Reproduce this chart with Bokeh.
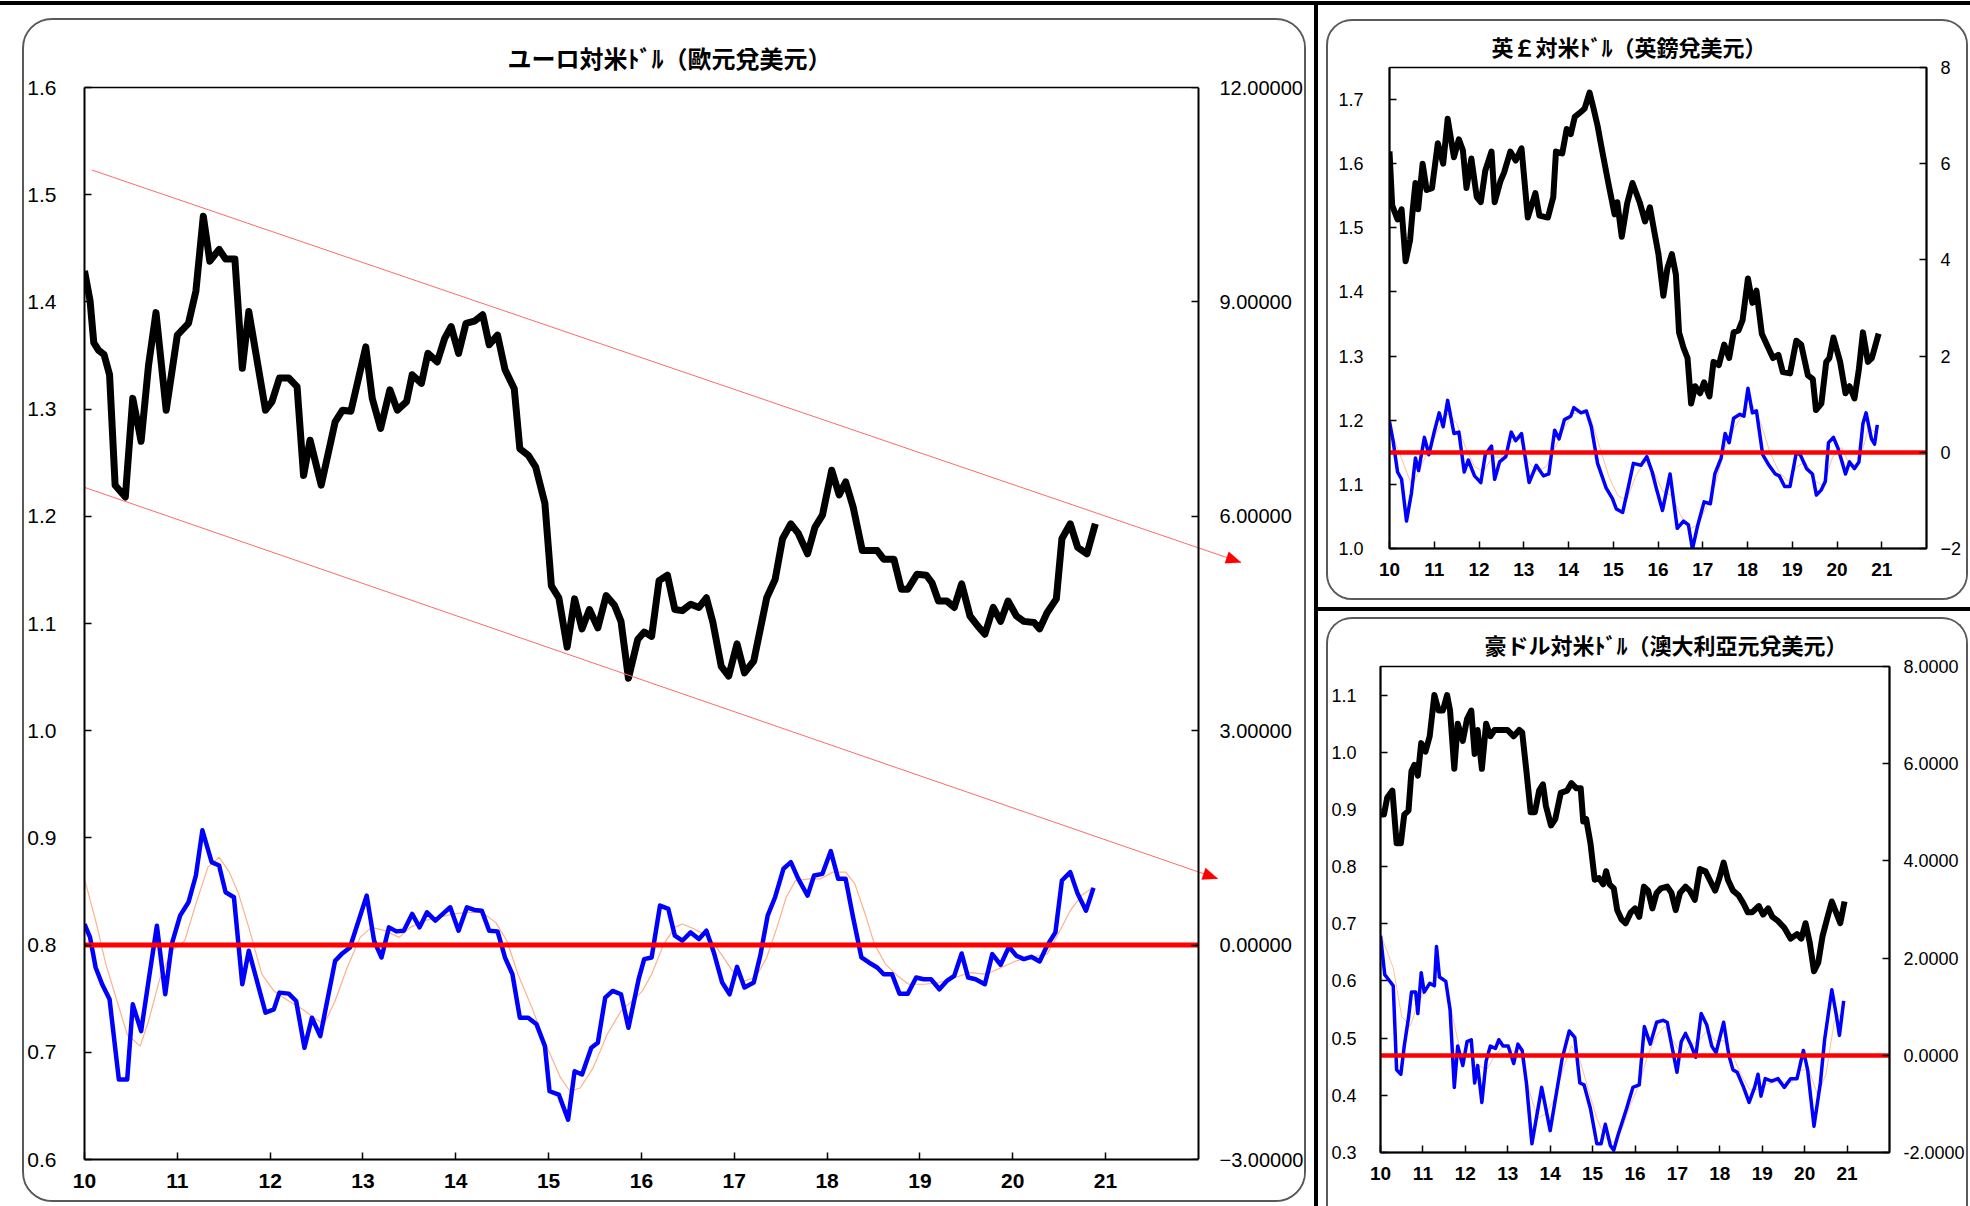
import math
from bokeh.plotting import figure
from bokeh.models import (Range1d, LinearAxis, FixedTicker, NumeralTickFormatter,
                          CustomJSTickFormatter, PolyAnnotation, Spacer)
from bokeh.layouts import row, column
from bokeh.embed import file_html
from bokeh.resources import INLINE

# ---------------- data (x = year - 2000, decimal) ----------------
years = [10, 11, 12, 13, 14, 15, 16, 17, 18, 19, 20, 21]
X_START, X_END = 10, 22

# EUR/USD rate (left axis)
eur_t = [10.00, 10.06, 10.10, 10.15, 10.21, 10.27, 10.33, 10.44, 10.52, 10.61, 10.69, 10.77, 10.88,
         11.00, 11.12, 11.20, 11.28, 11.35, 11.45, 11.52, 11.62, 11.70, 11.77, 11.95,
         12.02, 12.10, 12.20, 12.29, 12.36, 12.43, 12.55, 12.70, 12.78, 12.87,
         13.03, 13.10, 13.19, 13.29, 13.37, 13.47, 13.53, 13.63, 13.70, 13.80, 13.88, 13.95,
         14.03, 14.11, 14.20, 14.29, 14.36, 14.45, 14.53, 14.63, 14.69, 14.78, 14.86, 14.96,
         15.03, 15.11, 15.20, 15.28, 15.36, 15.44, 15.53, 15.62, 15.71, 15.78, 15.86, 15.96,
         16.03, 16.11, 16.19, 16.28, 16.36, 16.44, 16.53, 16.62, 16.70, 16.77, 16.86, 16.94,
         17.03, 17.11, 17.21, 17.35, 17.44, 17.52, 17.61, 17.69, 17.79, 17.87, 17.95,
         18.05, 18.13, 18.20, 18.28, 18.38, 18.46, 18.54, 18.61, 18.72, 18.80, 18.87, 18.97,
         19.07, 19.13, 19.20, 19.29, 19.37, 19.45, 19.54, 19.62, 19.70, 19.79, 19.87, 19.95,
         20.04, 20.12, 20.23, 20.29, 20.37, 20.47, 20.53, 20.62, 20.70, 20.80, 20.89]
eur_rate = [1.429, 1.401, 1.362, 1.355, 1.351, 1.332, 1.229, 1.218, 1.310, 1.270, 1.341, 1.390, 1.299,
            1.369, 1.380, 1.410, 1.480, 1.438, 1.449, 1.440, 1.440, 1.338, 1.391, 1.299,
            1.307, 1.329, 1.329, 1.321, 1.238, 1.271, 1.229, 1.288, 1.299, 1.298,
            1.358, 1.310, 1.282, 1.318, 1.299, 1.307, 1.332, 1.324, 1.352, 1.344, 1.366, 1.377,
            1.352, 1.380, 1.382, 1.388, 1.360, 1.369, 1.337, 1.319, 1.263, 1.257, 1.246, 1.212,
            1.135, 1.124, 1.078, 1.123, 1.095, 1.113, 1.096, 1.126, 1.117, 1.102, 1.049, 1.085,
            1.092, 1.088, 1.140, 1.145, 1.113, 1.112, 1.118, 1.115, 1.124, 1.101, 1.060, 1.051,
            1.081, 1.054, 1.065, 1.124, 1.141, 1.179, 1.193, 1.184, 1.165, 1.190, 1.201,
            1.243, 1.220, 1.232, 1.209, 1.168, 1.168, 1.168, 1.160, 1.160, 1.132, 1.132, 1.146,
            1.145, 1.138, 1.121, 1.121, 1.115, 1.137, 1.107, 1.098, 1.090, 1.115, 1.102, 1.121,
            1.107, 1.102, 1.101, 1.095, 1.110, 1.123, 1.179, 1.193, 1.171, 1.165, 1.193]

# EUR deviation indicator (right axis)
eur_dev_t = [10.00, 10.06, 10.12, 10.19, 10.27, 10.37, 10.46, 10.52, 10.61, 10.69, 10.78, 10.87, 10.94,
             11.03, 11.12, 11.20, 11.27, 11.37, 11.45, 11.52, 11.61, 11.70, 11.77, 11.95,
             12.04, 12.10, 12.20, 12.28, 12.37, 12.45, 12.54, 12.70, 12.77, 12.86,
             13.04, 13.12, 13.20, 13.28, 13.36, 13.44, 13.53, 13.61, 13.69, 13.78, 13.86, 13.94,
             14.03, 14.12, 14.20, 14.28, 14.36, 14.45, 14.53, 14.61, 14.69, 14.78, 14.87, 14.96,
             15.01, 15.11, 15.21, 15.28, 15.36, 15.46, 15.53, 15.61, 15.69, 15.78, 15.86, 15.97,
             16.03, 16.11, 16.20, 16.29, 16.36, 16.44, 16.53, 16.62, 16.70, 16.78, 16.87, 16.95,
             17.03, 17.11, 17.21, 17.28, 17.36, 17.44, 17.53, 17.61, 17.69, 17.79, 17.86, 17.95,
             18.04, 18.12, 18.20, 18.28, 18.37, 18.45, 18.54, 18.61, 18.70, 18.78, 18.87, 18.96,
             19.04, 19.12, 19.21, 19.29, 19.37, 19.45, 19.52, 19.60, 19.70, 19.78, 19.87, 19.96,
             20.04, 20.12, 20.20, 20.29, 20.37, 20.46, 20.53, 20.62, 20.70, 20.79, 20.87]
eur_dev = [0.295, 0.108, -0.313, -0.548, -0.758, -1.882, -1.882, -0.829, -1.203, -0.501, 0.272, -0.688, 0.014,
           0.412, 0.599, 0.974, 1.606, 1.161, 1.114, 0.740, 0.670, -0.548, -0.079, -0.945,
           -0.899, -0.665, -0.679, -0.782, -1.437, -1.016, -1.273, -0.220, -0.126, -0.033,
           0.693, 0.061, -0.173, 0.248, 0.192, 0.202, 0.436, 0.248, 0.459, 0.342, 0.436, 0.529,
           0.202, 0.529, 0.492, 0.482, 0.202, 0.192, -0.173, -0.407, -1.016, -1.016, -1.109, -1.413,
           -2.045, -2.092, -2.443, -1.765, -1.811, -1.437, -1.367, -0.735, -0.641, -0.688, -1.156, -0.477,
           -0.196, -0.173, 0.553, 0.506, 0.131, 0.061, 0.178, 0.084, 0.202, -0.103, -0.524, -0.688,
           -0.304, -0.594, -0.524, -0.150, 0.412, 0.670, 1.068, 1.161, 0.927, 0.693, 0.974, 0.997,
           1.316, 0.927, 0.927, 0.389, -0.173, -0.243, -0.314, -0.407, -0.407, -0.679, -0.679, -0.454,
           -0.477, -0.477, -0.618, -0.501, -0.431, -0.117, -0.454, -0.477, -0.548, -0.126, -0.276, -0.023,
           -0.150, -0.196, -0.164, -0.229, -0.009, 0.178, 0.904, 1.021, 0.717, 0.482, 0.801]

# EUR smoothed indicator (thin orange line, right axis)
eur_ma_t = [10.00, 10.12, 10.23, 10.35, 10.46, 10.60, 10.69, 10.81, 10.94, 11.08, 11.20, 11.33, 11.45,
            11.56, 11.66, 11.77, 11.91, 12.04, 12.20, 12.35, 12.47, 12.58, 12.70, 12.83, 12.97,
            13.09, 13.24, 13.39, 13.51, 13.66, 13.82, 13.97, 14.13, 14.28, 14.43, 14.55, 14.67,
            14.82, 14.97, 15.13, 15.23, 15.34, 15.48, 15.63, 15.78, 15.94, 16.01, 16.11, 16.24,
            16.36, 16.44, 16.57, 16.73, 16.86, 16.98, 17.11, 17.23, 17.35, 17.46, 17.56, 17.66,
            17.81, 17.93, 18.06, 18.20, 18.30, 18.41, 18.51, 18.63, 18.76, 18.88, 19.05, 19.21,
            19.38, 19.54, 19.71, 19.88, 20.04, 20.20, 20.37, 20.49, 20.62, 20.74, 20.87]
eur_ma = [0.927, 0.342, -0.267, -0.782, -1.250, -1.414, -1.062, -0.477, -0.079, 0.061, 0.576, 1.091, 1.231,
          1.021, 0.717, 0.248, -0.407, -0.641, -0.782, -0.899, -1.016, -1.109, -0.782, -0.313, 0.108,
          0.248, 0.202, 0.108, 0.248, 0.342, 0.389, 0.436, 0.459, 0.459, 0.318, 0.061, -0.407,
          -0.875, -1.390, -1.858, -2.045, -1.999, -1.718, -1.250, -0.922, -0.735, -0.641, -0.407, 0.014,
          0.248, 0.295, 0.225, 0.108, -0.126, -0.360, -0.501, -0.454, -0.173, 0.248, 0.670, 0.904,
          0.927, 0.927, 1.021, 1.021, 0.857, 0.436, 0.014, -0.267, -0.431, -0.548, -0.548, -0.524,
          -0.454, -0.384, -0.407, -0.313, -0.220, -0.173, -0.126, 0.155, 0.482, 0.693, 0.810]

# EUR trend channel (left axis): start / end points of the two lines
trend_x0 = [10.08, 10.00]
trend_y0 = [1.523, 1.227]
trend_x1 = [22.46, 22.21]
trend_y1 = [1.157, 0.862]

# GBP/USD
gbp_t = [10.00, 10.06, 10.18, 10.27, 10.36, 10.46, 10.52, 10.58, 10.64, 10.74, 10.83, 10.95, 11.08,
         11.20, 11.30, 11.44, 11.55, 11.64, 11.72, 11.83, 11.95, 12.04, 12.14, 12.28, 12.35,
         12.48, 12.56, 12.70, 12.82, 12.95, 13.09, 13.26, 13.35, 13.54, 13.66, 13.72, 13.86,
         13.96, 14.05, 14.14, 14.28, 14.36, 14.47, 14.56, 14.65, 14.75, 14.89, 15.03, 15.09,
         15.19, 15.31, 15.43, 15.59, 15.71, 15.82, 15.91, 16.01, 16.12, 16.21, 16.31, 16.40,
         16.47, 16.57, 16.66, 16.74, 16.83, 16.94, 17.03, 17.15, 17.24, 17.36, 17.48, 17.59,
         17.69, 17.80, 17.89, 18.01, 18.11, 18.20, 18.32, 18.43, 18.57, 18.69, 18.79, 18.95,
         19.09, 19.20, 19.35, 19.46, 19.53, 19.65, 19.76, 19.83, 19.92, 20.07, 20.19, 20.28,
         20.39, 20.49, 20.58, 20.69, 20.78, 20.93]
gbp_rate = [1.619, 1.535, 1.513, 1.529, 1.448, 1.481, 1.529, 1.570, 1.529, 1.600, 1.559, 1.562, 1.632,
            1.600, 1.670, 1.610, 1.638, 1.621, 1.562, 1.608, 1.548, 1.540, 1.589, 1.619, 1.540,
            1.573, 1.586, 1.619, 1.605, 1.624, 1.516, 1.554, 1.519, 1.516, 1.548, 1.619, 1.616,
            1.654, 1.646, 1.673, 1.681, 1.686, 1.711, 1.686, 1.659, 1.621, 1.570, 1.521, 1.540,
            1.486, 1.538, 1.570, 1.540, 1.510, 1.532, 1.497, 1.459, 1.394, 1.437, 1.459, 1.427,
            1.337, 1.313, 1.297, 1.226, 1.253, 1.242, 1.259, 1.237, 1.291, 1.286, 1.318, 1.297,
            1.337, 1.340, 1.356, 1.421, 1.383, 1.402, 1.335, 1.318, 1.297, 1.302, 1.275, 1.273,
            1.324, 1.318, 1.270, 1.264, 1.216, 1.226, 1.291, 1.297, 1.329, 1.291, 1.242, 1.253,
            1.234, 1.280, 1.337, 1.291, 1.297, 1.335]
gbp_dev_t = [10.00, 10.08, 10.18, 10.27, 10.38, 10.49, 10.58, 10.65, 10.78, 10.88, 10.99, 11.11, 11.20,
             11.30, 11.44, 11.55, 11.67, 11.76, 11.90, 12.04, 12.14, 12.28, 12.35, 12.46, 12.60,
             12.72, 12.82, 12.95, 13.12, 13.28, 13.44, 13.56, 13.69, 13.79, 13.91, 14.05, 14.12,
             14.28, 14.40, 14.51, 14.65, 14.84, 14.98, 15.07, 15.21, 15.34, 15.45, 15.62, 15.75,
             15.87, 15.96, 16.10, 16.27, 16.43, 16.57, 16.68, 16.77, 16.89, 17.03, 17.17, 17.27,
             17.41, 17.50, 17.59, 17.69, 17.83, 17.92, 18.01, 18.11, 18.20, 18.34, 18.48, 18.62,
             18.71, 18.83, 18.95, 19.09, 19.18, 19.32, 19.45, 19.54, 19.65, 19.74, 19.81, 19.92,
             20.02, 20.10, 20.19, 20.28, 20.39, 20.49, 20.58, 20.65, 20.77, 20.84, 20.90]
gbp_dev = [0.64, 0.24, -0.41, -0.56, -1.43, -0.85, -0.12, -0.38, 0.31, -0.05, 0.39, 0.82, 0.53,
           1.08, 0.39, 0.42, -0.41, -0.16, -0.49, -0.63, -0.05, 0.13, -0.56, -0.20, -0.09,
           0.42, 0.24, 0.39, -0.63, -0.27, -0.49, -0.45, 0.46, 0.28, 0.68, 0.75, 0.93,
           0.82, 0.86, 0.53, -0.23, -0.74, -0.96, -1.18, -1.25, -0.71, -0.23, -0.27, -0.09,
           -0.41, -0.74, -1.21, -0.45, -1.58, -1.43, -1.51, -2.01, -1.51, -1.03, -1.07, -0.45,
           -0.12, 0.39, 0.20, 0.71, 0.79, 0.75, 1.33, 0.82, 0.86, -0.05, -0.27, -0.45,
           -0.49, -0.71, -0.71, -0.01, -0.05, -0.34, -0.45, -0.89, -0.78, -0.60, 0.20, 0.31,
           0.09, -0.16, -0.45, -0.20, -0.34, -0.20, 0.60, 0.82, 0.28, 0.17, 0.57]
gbp_ma_t = [10.0, 10.3, 10.5, 10.7, 10.9, 11.1, 11.3, 11.5, 11.7, 11.9, 12.1, 12.3, 12.5, 12.7, 12.9,
            13.1, 13.3, 13.5, 13.7, 13.9, 14.1, 14.3, 14.5, 14.7, 14.9, 15.1, 15.3, 15.5, 15.7, 15.9,
            16.1, 16.3, 16.5, 16.7, 16.9, 17.1, 17.3, 17.5, 17.7, 17.9, 18.1, 18.3, 18.5, 18.7, 18.9,
            19.1, 19.3, 19.5, 19.7, 19.9, 20.1, 20.3, 20.5, 20.7, 20.9]
gbp_ma = [0.5, -0.2, -0.7, -0.3, 0.1, 0.5, 0.8, 0.6, 0.1, -0.3, -0.4, -0.1, -0.1, 0.2, 0.3,
          -0.2, -0.4, -0.3, 0.1, 0.5, 0.8, 0.85, 0.7, 0.1, -0.5, -0.9, -1.0, -0.5, -0.2, -0.4,
          -0.8, -0.9, -1.3, -1.6, -1.5, -1.1, -0.6, 0.1, 0.5, 0.8, 1.0, 0.6, 0.0, -0.4, -0.6,
          -0.3, -0.2, -0.6, -0.7, -0.1, 0.1, -0.3, -0.2, 0.5, 0.4]

# AUD/USD
aud_t = [10.00, 10.08, 10.16, 10.28, 10.38, 10.48, 10.56, 10.66, 10.73, 10.80, 10.88, 10.96, 11.06,
         11.16, 11.27, 11.37, 11.47, 11.57, 11.64, 11.74, 11.82, 11.94, 12.04, 12.14, 12.22,
         12.29, 12.39, 12.49, 12.59, 12.69, 12.84, 12.99, 13.14, 13.27, 13.34, 13.44, 13.54,
         13.64, 13.74, 13.83, 13.90, 14.02, 14.12, 14.25, 14.40, 14.50, 14.62, 14.72, 14.78,
         14.85, 14.95, 15.05, 15.15, 15.25, 15.32, 15.40, 15.50, 15.58, 15.68, 15.78, 15.90,
         16.00, 16.10, 16.21, 16.31, 16.41, 16.51, 16.61, 16.76, 16.86, 16.96, 17.06, 17.19,
         17.29, 17.41, 17.53, 17.66, 17.76, 17.89, 17.99, 18.09, 18.19, 18.31, 18.44, 18.56,
         18.66, 18.76, 18.92, 19.02, 19.14, 19.24, 19.37, 19.52, 19.67, 19.82, 19.92, 20.02,
         20.12, 20.22, 20.32, 20.42, 20.54, 20.64, 20.74, 20.84, 20.94]
aud_rate = [0.891, 0.891, 0.921, 0.933, 0.841, 0.841, 0.891, 0.898, 0.967, 0.978, 0.959, 1.016, 1.001,
            1.028, 1.100, 1.073, 1.073, 1.100, 1.073, 0.971, 1.050, 1.020, 1.058, 1.073, 0.997,
            1.039, 0.971, 1.050, 1.028, 1.039, 1.039, 1.039, 1.028, 1.039, 1.035, 0.967, 0.895,
            0.895, 0.933, 0.944, 0.906, 0.872, 0.883, 0.929, 0.933, 0.946, 0.937, 0.937, 0.879,
            0.883, 0.841, 0.777, 0.780, 0.769, 0.792, 0.769, 0.762, 0.724, 0.708, 0.701, 0.720,
            0.727, 0.712, 0.765, 0.758, 0.727, 0.754, 0.762, 0.765, 0.754, 0.724, 0.754, 0.765,
            0.758, 0.742, 0.796, 0.792, 0.777, 0.758, 0.780, 0.807, 0.777, 0.758, 0.750, 0.735,
            0.720, 0.720, 0.731, 0.716, 0.727, 0.712, 0.705, 0.693, 0.674, 0.682, 0.674, 0.701,
            0.667, 0.617, 0.632, 0.678, 0.712, 0.739, 0.720, 0.701, 0.739]
aud_dev_t = [10.00, 10.10, 10.18, 10.30, 10.38, 10.48, 10.56, 10.66, 10.73, 10.83, 10.88, 10.96, 11.03,
             11.16, 11.27, 11.32, 11.39, 11.54, 11.64, 11.74, 11.82, 11.94, 12.04, 12.14, 12.22,
             12.29, 12.39, 12.49, 12.59, 12.71, 12.79, 12.89, 13.01, 13.14, 13.24, 13.34, 13.44,
             13.57, 13.80, 14.00, 14.28, 14.45, 14.58, 14.70, 14.80, 14.95, 15.10, 15.20, 15.30,
             15.42, 15.50, 15.60, 15.80, 15.95, 16.10, 16.22, 16.36, 16.51, 16.66, 16.76, 16.86,
             16.99, 17.09, 17.19, 17.33, 17.43, 17.56, 17.69, 17.81, 17.91, 18.09, 18.21, 18.31,
             18.41, 18.56, 18.69, 18.82, 18.90, 18.97, 19.07, 19.22, 19.37, 19.52, 19.67, 19.82,
             19.97, 20.07, 20.22, 20.37, 20.47, 20.64, 20.74, 20.82, 20.92]
aud_dev = [2.46, 1.66, 1.57, 1.43, -0.30, -0.39, 0.19, 0.77, 1.30, 1.30, 0.86, 1.70, 1.30,
           1.48, 1.43, 2.24, 1.61, 1.52, 0.94, -0.66, 0.19, -0.21, 0.28, 0.32, -0.57,
           -0.21, -0.97, -0.12, 0.19, 0.14, 0.32, 0.19, 0.19, -0.17, 0.23, 0.10, -0.57,
           -1.82, -0.66, -1.55, -0.08, 0.50, 0.37, -0.57, -0.61, -1.10, -1.82, -1.82, -1.42,
           -1.86, -1.95, -1.64, -1.10, -0.66, -0.61, 0.59, 0.23, 0.68, 0.72, 0.68, 0.23,
           -0.35, 0.28, 0.45, 0.19, -0.04, 0.86, 0.63, 0.19, 0.05, 0.68, 0.01, -0.30,
           -0.35, -0.66, -0.97, -0.66, -0.39, -0.84, -0.48, -0.53, -0.48, -0.66, -0.48, -0.48,
           0.10, -0.30, -1.46, -0.57, 0.32, 1.35, 0.86, 0.41, 1.12]
aud_ma_t = [10.0, 10.3, 10.5, 10.7, 10.9, 11.1, 11.3, 11.5, 11.7, 11.9, 12.1, 12.3, 12.5, 12.7, 12.9,
            13.1, 13.3, 13.5, 13.7, 13.9, 14.1, 14.3, 14.5, 14.7, 14.9, 15.1, 15.3, 15.5, 15.7, 15.9,
            16.1, 16.3, 16.5, 16.7, 16.9, 17.1, 17.3, 17.5, 17.7, 17.9, 18.1, 18.3, 18.5, 18.7, 18.9,
            19.1, 19.3, 19.5, 19.7, 19.9, 20.1, 20.3, 20.5, 20.7, 20.9]
aud_ma = [2.5, 1.8, 0.8, 0.6, 1.1, 1.4, 1.6, 1.6, 0.8, 0.0, 0.0, -0.2, -0.3, 0.0, 0.2,
          0.1, 0.0, -0.7, -1.3, -1.2, -0.9, -0.3, 0.2, -0.1, -0.7, -1.3, -1.7, -1.8, -1.5, -1.0,
          -0.6, 0.0, 0.4, 0.6, 0.3, 0.0, 0.2, 0.3, 0.5, 0.3, 0.3, 0.0, -0.4, -0.7, -0.7,
          -0.6, -0.55, -0.55, -0.55, -0.3, -0.3, -0.8, -0.4, 0.7, 0.9]

eur_left_ticks = [0.6, 0.7, 0.8, 0.9, 1.0, 1.1, 1.2, 1.3, 1.4, 1.5, 1.6]
eur_right_ticks = [-3, 0, 3, 6, 9, 12]
gbp_left_ticks = [1.0, 1.1, 1.2, 1.3, 1.4, 1.5, 1.6, 1.7]
gbp_right_ticks = [-2, 0, 2, 4, 6, 8]
aud_left_ticks = [0.3, 0.4, 0.5, 0.6, 0.7, 0.8, 0.9, 1.0, 1.1]
aud_right_ticks = [-2, 0, 2, 4, 6, 8]

title_eur = "ユーロ対米ﾄﾞﾙ（歐元兌美元）"
title_gbp = "英￡対米ﾄﾞﾙ（英鎊兌美元）"
title_aud = "豪ドル対米ﾄﾞﾙ（澳大利亞元兌美元）"

# ---------------- styling helpers ----------------
SANS = "Liberation Sans"
CJK = "Noto Sans CJK JP"


def style_axis(ax, font, size, bold, standoff):
    ax.major_tick_in = 7
    ax.major_tick_out = 0
    ax.minor_tick_in = 0
    ax.minor_tick_out = 0
    ax.axis_line_color = "black"
    ax.axis_line_width = 2
    ax.major_tick_line_color = "black"
    ax.major_tick_line_width = 1.5
    ax.major_label_text_font = font
    ax.major_label_text_font_size = f"{size}px"
    ax.major_label_text_font_style = "bold" if bold else "normal"
    ax.major_label_text_color = "black"
    ax.major_label_standoff = standoff


def make_panel(width, height, mb, yl, yr, lticks, rticks, lfmt, rfmt, sizes, standoffs, title,
               x_end=X_END, right_shift=0):
    p = figure(width=width, height=height, output_backend="svg", toolbar_location=None,
               x_range=Range1d(X_START, x_end), y_range=Range1d(*yl),
               min_border_left=mb[0], min_border_right=mb[1],
               min_border_top=mb[2], min_border_bottom=mb[3])
    p.frame_align = False
    p.extra_y_ranges = {"r": Range1d(*yr)}
    p.xgrid.grid_line_color = None
    p.ygrid.grid_line_color = None
    p.background_fill_color = "white"
    p.border_fill_color = "white"

    xa = p.xaxis[0]
    xa.ticker = FixedTicker(ticks=years)
    xa.bounds = (X_START, X_END)
    style_axis(xa, SANS, sizes[0], True, standoffs[0])

    la = p.yaxis[0]
    la.ticker = FixedTicker(ticks=lticks)
    la.formatter = lfmt
    style_axis(la, SANS, sizes[1], False, standoffs[1])

    if right_shift:
        # the frame runs a little past the last year so that the trend arrows can overshoot;
        # the visible right border (line + ticks) sits at X_END, its labels in the side panel
        rline = LinearAxis(y_range_name="r", ticker=FixedTicker(ticks=rticks),
                           formatter=CustomJSTickFormatter(code="return '';"))
        style_axis(rline, SANS, sizes[2], False, 0)
        rline.fixed_location = X_END
        p.add_layout(rline, "right")
        rlab = LinearAxis(y_range_name="r", ticker=FixedTicker(ticks=rticks), formatter=rfmt)
        style_axis(rlab, SANS, sizes[2], False, standoffs[2] - right_shift)
        rlab.axis_line_color = None
        rlab.major_tick_line_color = None
        rlab.major_tick_in = 0
        p.add_layout(rlab, "right")
        p.outline_line_color = None
        top = LinearAxis(ticker=FixedTicker(ticks=[]), bounds=(X_START, X_END))
        top.axis_line_color = "black"
        top.axis_line_width = 1.5
        top.major_tick_in = 0
        top.major_tick_out = 0
        top.minor_tick_in = 0
        top.minor_tick_out = 0
        p.add_layout(top, "above")
    else:
        ra = LinearAxis(y_range_name="r", ticker=FixedTicker(ticks=rticks), formatter=rfmt)
        style_axis(ra, SANS, sizes[2], False, standoffs[2])
        p.add_layout(ra, "right")
        p.outline_line_color = "black"
        p.outline_line_width = 1.5

    p.title.text = title[0]
    p.title.align = "left"
    p.title.offset = title[1]
    p.title.standoff = title[2]
    p.title.text_font = CJK
    p.title.text_font_size = f"{title[3]}px"
    p.title.text_font_style = "bold"
    p.title.text_color = "black"
    return p


def minus_fmt(dec):
    return CustomJSTickFormatter(
        code=f"return (tick < 0 ? '\\u2212' : '') + Math.abs(tick).toFixed({dec});")


def head_polygon(x0, y0, x1, y1, kx, ky, length, half):
    # triangle arrow head at (x1, y1), pointing along the line, sized in pixels
    dx, dy = (x1 - x0) * kx, (y1 - y0) * ky
    n = math.hypot(dx, dy)
    ux, uy = dx / n, dy / n
    bx, by = -ux * length, -uy * length
    px, py = -uy * half, ux * half
    xs = [x1, x1 + (bx + px) / kx, x1 + (bx - px) / kx]
    ys = [y1, y1 + (by + py) / ky, y1 + (by - py) / ky]
    return xs, ys


# ---------------- main panel: EUR ----------------
MAIN_W, MAIN_H = 1280, 1180
main_mb = (59, 55, 67, 45)
VIS_FRAME_W = 1111                       # pixels between year 10 and year 22
frame_w = MAIN_W - main_mb[0] - main_mb[1]
frame_h = MAIN_H - main_mb[2] - main_mb[3]
kx = VIS_FRAME_W / (X_END - X_START)
ky = frame_h / 1.0
main_x_end = X_START + frame_w / kx
overshoot = frame_w - VIS_FRAME_W        # pixels of frame past year 22

main = make_panel(MAIN_W, MAIN_H, main_mb, (0.6, 1.6), (-3, 12),
                  eur_left_ticks, eur_right_ticks, NumeralTickFormatter(format="0.0"),
                  minus_fmt(5), (21, 21, 20), (14, 28, 21), (title_eur, 423, 25, 24),
                  x_end=main_x_end, right_shift=overshoot)
main.line(eur_ma_t, eur_ma, line_color="#ffb08a", line_width=1.2, y_range_name="r")
main.line(eur_dev_t, eur_dev, line_color="#0000ff", line_width=4.5, line_join="round", y_range_name="r")
main.line([X_START, X_END], [0, 0], line_color="#ff0000", line_width=5, y_range_name="r")
main.line(eur_t, eur_rate, line_color="black", line_width=7, line_join="round")
main.segment(x0=trend_x0, y0=trend_y0, x1=trend_x1, y1=trend_y1, line_color="#ff6a6a", line_width=1)
for i in range(2):
    hx, hy = head_polygon(trend_x0[i], trend_y0[i], trend_x1[i], trend_y1[i], kx, ky, 15, 6)
    main.add_layout(PolyAnnotation(xs=hx, ys=hy, fill_color="#ff0000", fill_alpha=1.0,
                                   line_color="#ff0000", line_width=1))
main.styles = {"border": "2px solid #5a5a5a", "border-radius": "30px", "overflow": "hidden",
               "box-sizing": "content-box"}
main.margin = (13, 0, 0, 22)

# ---------------- top-right: GBP ----------------
tr = make_panel(638, 577, (61, 44, 46, 54), (1.0, 1.75), (-2, 8),
                gbp_left_ticks, gbp_right_ticks, NumeralTickFormatter(format="0.0"),
                minus_fmt(0), (19, 18, 18), (14, 26, 14), (title_gbp, 102, 12, 22))
tr.line(gbp_ma_t, gbp_ma, line_color="#ffc09a", line_width=1, y_range_name="r")
tr.line(gbp_dev_t, gbp_dev, line_color="#0000ff", line_width=3.5, line_join="round", y_range_name="r")
tr.hspan(y=[0], line_color="#ff0000", line_width=4.5, y_range_name="r")
tr.line(gbp_t, gbp_rate, line_color="black", line_width=6, line_join="round")
tr.styles = {"border": "2px solid #5a5a5a", "border-radius": "26px", "overflow": "hidden",
             "box-sizing": "content-box"}
tr.margin = (14, 0, 0, 8)

# ---------------- bottom-right: AUD ----------------
br = make_panel(638, 587, (50, 81, 47, 56), (0.3, 1.15), (-2, 8),
                aud_left_ticks, aud_right_ticks, NumeralTickFormatter(format="0.0"),
                NumeralTickFormatter(format="0.0000"), (19, 18, 18), (14, 24, 14), (title_aud, 104, 13, 22))
br.line(aud_ma_t, aud_ma, line_color="#ffc09a", line_width=1, y_range_name="r")
br.line(aud_dev_t, aud_dev, line_color="#0000ff", line_width=3.5, line_join="round", y_range_name="r")
br.hspan(y=[0], line_color="#ff0000", line_width=4.5, y_range_name="r")
br.line(aud_t, aud_rate, line_color="black", line_width=6, line_join="round")
br.styles = {"border": "2px solid #5a5a5a", "border-bottom": "none",
             "border-radius": "26px 26px 0 0", "overflow": "hidden", "box-sizing": "content-box"}
br.margin = (6, 0, 0, 8)

# ---------------- page layout ----------------
top_line = Spacer(width=1970, height=4, margin=(1, 0, 0, 0), styles={"background-color": "black"})
vsep = Spacer(width=4, height=1201, margin=(0, 0, 0, 8), styles={"background-color": "black"})
hsep = Spacer(width=652, height=4, margin=(7, 0, 0, 0), styles={"background-color": "black"})
root = column(top_line, row(main, vsep, column(tr, hsep, br)))

open("out.html", "w").write(file_html(root, INLINE))
